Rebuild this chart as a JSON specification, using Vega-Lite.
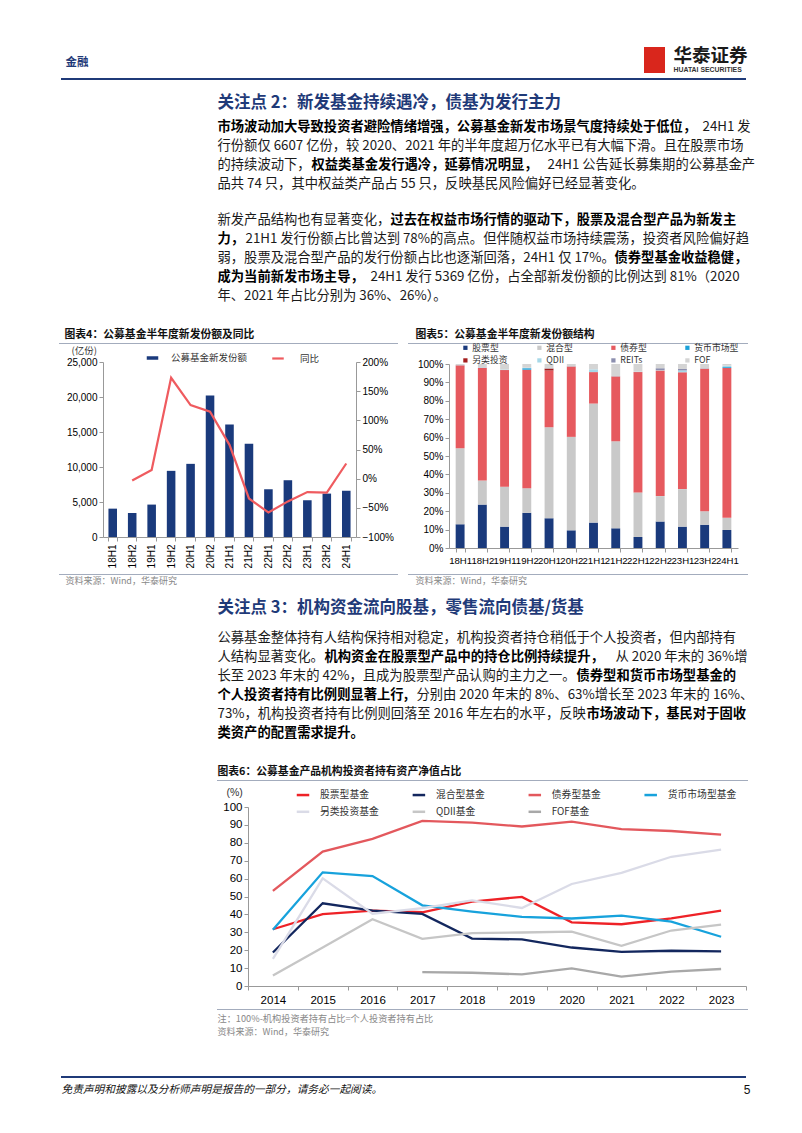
{
"$schema": "https://vega.github.io/schema/vega-lite/v6.json",
"background": "white",
"padding": 0,
"spacing": 0,
"bounds": "flush",
"resolve": {"scale": {"color": "independent", "fill": "independent", "stroke": "independent"}, "legend": {"color": "independent", "fill": "independent", "stroke": "independent"}},
"config": {"view": {"stroke": null}, "concat": {"spacing": 0}, "font": "Noto Sans CJK SC", "text": {"font": "Noto Sans CJK SC"}},
"vconcat": [
 {"spacing": 0, "bounds": "flush", "hconcat": [
  {"width": 62, "height": 78, "data": {"values": [{}]}, "mark": {"type": "point", "opacity": 0}},
  {"spacing": 0, "bounds": "flush", "vconcat": [
   {"width": 1, "height": 56, "data": {"values": [{}]}, "mark": {"type": "point", "opacity": 0}},
   {"width": 1, "height": 14, "data": {"values": [{"t": "金融"}]}, "mark": {"type": "text", "align": "left", "baseline": "middle", "fontSize": 11.5, "fontWeight": "bold", "color": "#1F3A78"}, "encoding": {"text": {"field": "t"}}}
  ]},
  {"width": 579, "height": 78, "data": {"values": [{}]}, "mark": {"type": "point", "opacity": 0}},
  {"spacing": 0, "bounds": "flush", "vconcat": [
   {"width": 21, "height": 47, "data": {"values": [{}]}, "mark": {"type": "point", "opacity": 0}},
   {"width": 21, "height": 26, "view": {"fill": "#D9261C", "stroke": null}, "data": {"values": [{}]}, "mark": {"type": "point", "opacity": 0}}
  ]},
  {"width": 29, "height": 78, "data": {"values": [{}]}, "mark": {"type": "point", "opacity": 0}},
  {"spacing": 0, "bounds": "flush", "vconcat": [
   {"width": 1, "height": 46, "data": {"values": [{}]}, "mark": {"type": "point", "opacity": 0}},
   {"width": 1, "height": 20, "data": {"values": [{"t": "华泰证券"}]}, "mark": {"type": "text", "align": "left", "baseline": "middle", "fontSize": 18.5, "fontWeight": "bold", "color": "#1a1a1a"}, "encoding": {"text": {"field": "t"}}},
   {"width": 1, "height": 8, "data": {"values": [{"t": "HUATAI SECURITIES"}]}, "mark": {"type": "text", "align": "left", "baseline": "middle", "fontSize": 6.9, "fontWeight": "bold", "font": "Liberation Sans", "color": "#333"}, "encoding": {"text": {"field": "t"}}}
  ]}
 ]},
 {"width": 1, "height": 78, "data": {"values": [{}]}, "mark": {"type": "point", "opacity": 0}},
 {"spacing": 0, "bounds": "flush", "hconcat": [
  {"width": 58, "height": 2, "data": {"values": [{}]}, "mark": {"type": "point", "opacity": 0}},
  {"width": 685, "height": 2, "view": {"fill": "#1F3A78", "stroke": null}, "data": {"values": [{}]}, "mark": {"type": "point", "opacity": 0}}
 ]},
 {"width": 1, "height": 2, "data": {"values": [{}]}, "mark": {"type": "point", "opacity": 0}},
 {"spacing": 0, "bounds": "flush", "hconcat": [
  {"width": 214, "height": 247, "data": {"values": [{}]}, "mark": {"type": "point", "opacity": 0}},
  {"spacing": 0, "bounds": "flush", "vconcat": [
   {"width": 1, "height": 13, "data": {"values": [{}]}, "mark": {"type": "point", "opacity": 0}},
   {"width": 1, "height": 20, "data": {"values": [{"t": "关注点 2：新发基金持续遇冷，债基为发行主力"}]}, "mark": {"type": "text", "align": "left", "baseline": "middle", "fontSize": 16.5, "fontWeight": "bold", "color": "#1F3A78"}, "encoding": {"text": {"field": "t"}}},
   {"width": 1, "height": 4, "data": {"values": [{}]}, "mark": {"type": "point", "opacity": 0}},
   {"spacing": 0, "bounds": "flush", "hconcat": [
    {"width": 1, "height": 19, "data": {"values": [{"t": "市场波动加大导致投资者避险情绪增强，公募基金新发市场景气度持续处于低位，"}]}, "mark": {"type": "text", "align": "left", "baseline": "middle", "fontSize": 13.3, "fontWeight": "bold", "color": "#000"}, "encoding": {"text": {"field": "t"}}},
    {"width": 483.8, "height": 19, "data": {"values": [{}]}, "mark": {"type": "point", "opacity": 0}},
    {"width": 1, "height": 19, "data": {"values": [{"t": "24H1 发"}]}, "mark": {"type": "text", "align": "left", "baseline": "middle", "fontSize": 13.3, "color": "#1a1a1a"}, "encoding": {"text": {"field": "t"}}}
   ]},
   {"width": 1, "height": 19, "data": {"values": [{}]}, "mark": {"type": "point", "opacity": 0}},
   {"width": 1, "height": 19, "data": {"values": [{"t": "行份额仅 6607 亿份，较 2020、2021 年的半年度超万亿水平已有大幅下滑。且在股票市场"}]}, "mark": {"type": "text", "align": "left", "baseline": "middle", "fontSize": 13.3, "color": "#1a1a1a"}, "encoding": {"text": {"field": "t"}}},
   {"spacing": 0, "bounds": "flush", "hconcat": [
    {"width": 1, "height": 19, "data": {"values": [{"t": "的持续波动下，"}]}, "mark": {"type": "text", "align": "left", "baseline": "middle", "fontSize": 13.3, "color": "#1a1a1a"}, "encoding": {"text": {"field": "t"}}},
    {"width": 92.1, "height": 19, "data": {"values": [{}]}, "mark": {"type": "point", "opacity": 0}},
    {"width": 1, "height": 19, "data": {"values": [{"t": "权益类基金发行遇冷，延募情况明显，"}]}, "mark": {"type": "text", "align": "left", "baseline": "middle", "fontSize": 13.3, "fontWeight": "bold", "color": "#000"}, "encoding": {"text": {"field": "t"}}},
    {"width": 234.5, "height": 19, "data": {"values": [{}]}, "mark": {"type": "point", "opacity": 0}},
    {"width": 1, "height": 19, "data": {"values": [{"t": "24H1 公告延长募集期的公募基金产"}]}, "mark": {"type": "text", "align": "left", "baseline": "middle", "fontSize": 13.3, "color": "#1a1a1a"}, "encoding": {"text": {"field": "t"}}}
   ]},
   {"width": 1, "height": 19, "data": {"values": [{}]}, "mark": {"type": "point", "opacity": 0}},
   {"width": 1, "height": 19, "data": {"values": [{"t": "品共 74 只，其中权益类产品占 55 只，反映基民风险偏好已经显著变化。"}]}, "mark": {"type": "text", "align": "left", "baseline": "middle", "fontSize": 13.3, "color": "#1a1a1a"}, "encoding": {"text": {"field": "t"}}},
   {"width": 1, "height": 17, "data": {"values": [{}]}, "mark": {"type": "point", "opacity": 0}},
   {"spacing": 0, "bounds": "flush", "hconcat": [
    {"width": 1, "height": 19, "data": {"values": [{"t": "新发产品结构也有显著变化，"}]}, "mark": {"type": "text", "align": "left", "baseline": "middle", "fontSize": 13.3, "color": "#1a1a1a"}, "encoding": {"text": {"field": "t"}}},
    {"width": 171.9, "height": 19, "data": {"values": [{}]}, "mark": {"type": "point", "opacity": 0}},
    {"width": 1, "height": 19, "data": {"values": [{"t": "过去在权益市场行情的驱动下，股票及混合型产品为新发主"}]}, "mark": {"type": "text", "align": "left", "baseline": "middle", "fontSize": 13.3, "fontWeight": "bold", "color": "#000"}, "encoding": {"text": {"field": "t"}}}
   ]},
   {"width": 1, "height": 19, "data": {"values": [{}]}, "mark": {"type": "point", "opacity": 0}},
   {"spacing": 0, "bounds": "flush", "hconcat": [
    {"width": 1, "height": 19, "data": {"values": [{"t": "力，"}]}, "mark": {"type": "text", "align": "left", "baseline": "middle", "fontSize": 13.3, "fontWeight": "bold", "color": "#000"}, "encoding": {"text": {"field": "t"}}},
    {"width": 26.7, "height": 19, "data": {"values": [{}]}, "mark": {"type": "point", "opacity": 0}},
    {"width": 1, "height": 19, "data": {"values": [{"t": "21H1 发行份额占比曾达到 78%的高点。但伴随权益市场持续震荡，投资者风险偏好趋"}]}, "mark": {"type": "text", "align": "left", "baseline": "middle", "fontSize": 13.3, "color": "#1a1a1a"}, "encoding": {"text": {"field": "t"}}}
   ]},
   {"width": 1, "height": 19, "data": {"values": [{}]}, "mark": {"type": "point", "opacity": 0}},
   {"spacing": 0, "bounds": "flush", "hconcat": [
    {"width": 1, "height": 19, "data": {"values": [{"t": "弱，股票及混合型产品的发行份额占比也逐渐回落，24H1 仅 17%。"}]}, "mark": {"type": "text", "align": "left", "baseline": "middle", "fontSize": 13.3, "color": "#1a1a1a"}, "encoding": {"text": {"field": "t"}}},
    {"width": 396, "height": 19, "data": {"values": [{}]}, "mark": {"type": "point", "opacity": 0}},
    {"width": 1, "height": 19, "data": {"values": [{"t": "债券型基金收益稳健，"}]}, "mark": {"type": "text", "align": "left", "baseline": "middle", "fontSize": 13.3, "fontWeight": "bold", "color": "#000"}, "encoding": {"text": {"field": "t"}}}
   ]},
   {"width": 1, "height": 19, "data": {"values": [{}]}, "mark": {"type": "point", "opacity": 0}},
   {"spacing": 0, "bounds": "flush", "hconcat": [
    {"width": 1, "height": 19, "data": {"values": [{"t": "成为当前新发市场主导，"}]}, "mark": {"type": "text", "align": "left", "baseline": "middle", "fontSize": 13.3, "fontWeight": "bold", "color": "#000"}, "encoding": {"text": {"field": "t"}}},
    {"width": 151.4, "height": 19, "data": {"values": [{}]}, "mark": {"type": "point", "opacity": 0}},
    {"width": 1, "height": 19, "data": {"values": [{"t": "24H1 发行 5369 亿份，占全部新发份额的比例达到 81%（2020"}]}, "mark": {"type": "text", "align": "left", "baseline": "middle", "fontSize": 13.3, "color": "#1a1a1a"}, "encoding": {"text": {"field": "t"}}}
   ]},
   {"width": 1, "height": 19, "data": {"values": [{}]}, "mark": {"type": "point", "opacity": 0}},
   {"width": 1, "height": 19, "data": {"values": [{"t": "年、2021 年占比分别为 36%、26%）。"}]}, "mark": {"type": "text", "align": "left", "baseline": "middle", "fontSize": 13.3, "color": "#1a1a1a"}, "encoding": {"text": {"field": "t"}}},
   {"width": 1, "height": 22, "data": {"values": [{}]}, "mark": {"type": "point", "opacity": 0}}
  ]}
 ]},
 {"width": 1, "height": 247, "data": {"values": [{}]}, "mark": {"type": "point", "opacity": 0}},
 {"spacing": 0, "bounds": "flush",
  "resolve": {"scale": {"color": "independent", "fill": "independent", "stroke": "independent"}, "legend": {"color": "independent", "fill": "independent", "stroke": "independent"}},
  "hconcat": [
  {"width": 56, "height": 260, "data": {"values": [{}]}, "mark": {"type": "point", "opacity": 0}},
  {"spacing": 0, "bounds": "flush",
   "resolve": {"scale": {"color": "independent", "fill": "independent", "stroke": "independent"}, "legend": {"color": "independent", "fill": "independent", "stroke": "independent"}},
   "vconcat": [
   {"spacing": 0, "bounds": "flush", "hconcat": [
    {"width": 5, "height": 16, "data": {"values": [{}]}, "mark": {"type": "point", "opacity": 0}},
    {"width": 1, "height": 16, "data": {"values": [{"t": "图表4：公募基金半年度新发份额及同比"}]}, "mark": {"type": "text", "align": "left", "baseline": "middle", "fontSize": 10.8, "fontWeight": "bold", "color": "#111"}, "encoding": {"text": {"field": "t"}}}
   ]},
   {"width": 1, "height": 16, "data": {"values": [{}]}, "mark": {"type": "point", "opacity": 0}},
   {"width": 339, "height": 1, "view": {"fill": "#A3ACBD", "stroke": null}, "data": {"values": [{}]}, "mark": {"type": "point", "opacity": 0}},
   {"spacing": 0, "bounds": "flush",
    "resolve": {"scale": {"color": "independent", "fill": "independent", "stroke": "independent"}, "legend": {"color": "independent", "fill": "independent", "stroke": "independent"}},
    "hconcat": [
    {"width": 44, "height": 230, "data": {"values": [{}]}, "mark": {"type": "point", "opacity": 0}},
    {"spacing": 0, "bounds": "flush",
     "resolve": {"scale": {"color": "independent", "fill": "independent", "stroke": "independent"}, "legend": {"color": "independent", "fill": "independent", "stroke": "independent"}},
     "vconcat": [
     {"width": 1, "height": 18, "data": {"values": [{}]}, "mark": {"type": "point", "opacity": 0}},
     {"width": 253, "height": 175,
      "data": {"values": [
       {"p": "18H1", "v": 4050},
       {"p": "18H2", "v": 3430, "yoy": -0.03},
       {"p": "19H1", "v": 4630, "yoy": 0.15},
       {"p": "19H2", "v": 9450, "yoy": 1.73},
       {"p": "20H1", "v": 10450, "yoy": 1.26},
       {"p": "20H2", "v": 20230, "yoy": 1.15},
       {"p": "21H1", "v": 16080, "yoy": 0.58},
       {"p": "21H2", "v": 13310, "yoy": -0.34},
       {"p": "22H1", "v": 6820, "yoy": -0.58},
       {"p": "22H2", "v": 8110, "yoy": -0.39},
       {"p": "23H1", "v": 5250, "yoy": -0.23},
       {"p": "23H2", "v": 6200, "yoy": -0.24},
       {"p": "24H1", "v": 6607, "yoy": 0.26}
      ]},
      "layer": [
       {"mark": {"type": "bar"},
        "encoding": {
         "x": {"field": "p", "type": "ordinal", "sort": null, "scale": {"type": "band", "domain": ["18H1","18H2","19H1","19H2","20H1","20H2","21H1","21H2","22H1","22H2","23H1","23H2","24H1"], "paddingInner": 0.56, "paddingOuter": 0.28}, "axis": {"title": null, "labelAngle": 270, "labelFont": "Liberation Sans", "labelFontSize": 10, "labelColor": "#000", "domainColor": "#999", "tickColor": "#999", "tickSize": 4, "tickBand": "extent", "labelPadding": 3}},
         "y": {"field": "v", "type": "quantitative", "scale": {"domain": [0, 25000]}, "axis": {"orient": "left", "values": [0, 5000, 10000, 15000, 20000, 25000], "labelExpr": "format(datum.value, ',')", "grid": false, "title": "(亿份)", "titleAngle": 0, "titleAlign": "left", "titleBaseline": "middle", "titleX": -32, "titleY": -12, "titleFont": "Noto Sans CJK SC", "titleFontSize": 9.5, "titleFontWeight": "normal", "titleColor": "#333", "labelFont": "Liberation Sans", "labelFontSize": 10, "labelColor": "#000", "domainColor": "#999", "tickColor": "#999", "tickSize": 4}},
         "fill": {"datum": "公募基金新发份额", "type": "nominal", "scale": {"range": ["#1A3A7C"]}, "legend": {"title": null, "orient": "none", "direction": "horizontal", "legendX": 43.5, "legendY": -10, "symbolType": "M-1.15,-0.35H1.15V0.35H-1.15Z", "symbolSize": 100, "labelOffset": 12.5, "labelFont": "Noto Sans CJK SC", "labelFontSize": 9.5, "labelColor": "#333", "padding": 0}}
        }},
       {"mark": {"type": "line", "strokeWidth": 2.2},
        "encoding": {
         "x": {"field": "p", "type": "ordinal", "sort": null, "bandPosition": 0.5},
         "y": {"field": "yoy", "type": "quantitative", "scale": {"domain": [-1, 2]}, "axis": {"orient": "right", "values": [-1, -0.5, 0, 0.5, 1, 1.5, 2], "labelExpr": "format(datum.value, '.0%')", "grid": false, "title": null, "labelFont": "Liberation Sans", "labelFontSize": 10, "labelColor": "#000", "domainColor": "#999", "tickColor": "#999", "tickSize": 4}},
         "stroke": {"datum": "同比", "type": "nominal", "scale": {"range": ["#EF5B5F"]}, "legend": {"title": null, "orient": "none", "direction": "horizontal", "legendX": 168.5, "legendY": -10, "symbolType": "M-1.15,0H1.15", "symbolSize": 100, "symbolStrokeWidth": 2.2, "labelOffset": 15.5, "labelFont": "Noto Sans CJK SC", "labelFontSize": 9.5, "labelColor": "#333", "padding": 0}}
        }}
      ],
      "resolve": {"scale": {"y": "independent"}}
     },
     {"width": 1, "height": 37, "data": {"values": [{}]}, "mark": {"type": "point", "opacity": 0}}
    ]}
   ]},
   {"width": 1, "height": 230, "data": {"values": [{}]}, "mark": {"type": "point", "opacity": 0}},
   {"width": 339, "height": 1, "view": {"fill": "#A3ACBD", "stroke": null}, "data": {"values": [{}]}, "mark": {"type": "point", "opacity": 0}},
   {"spacing": 0, "bounds": "flush", "hconcat": [
    {"width": 6, "height": 12, "data": {"values": [{}]}, "mark": {"type": "point", "opacity": 0}},
    {"width": 1, "height": 12, "data": {"values": [{"t": "资料来源：Wind，华泰研究"}]}, "mark": {"type": "text", "align": "left", "baseline": "middle", "fontSize": 9, "color": "#888"}, "encoding": {"text": {"field": "t"}}}
   ]}
  ]},
  {"width": 349, "height": 260, "data": {"values": [{}]}, "mark": {"type": "point", "opacity": 0}},
  {"spacing": 0, "bounds": "flush",
   "resolve": {"scale": {"color": "independent", "fill": "independent", "stroke": "independent"}, "legend": {"color": "independent", "fill": "independent", "stroke": "independent"}},
   "vconcat": [
   {"spacing": 0, "bounds": "flush", "hconcat": [
    {"width": 7, "height": 16, "data": {"values": [{}]}, "mark": {"type": "point", "opacity": 0}},
    {"width": 1, "height": 16, "data": {"values": [{"t": "图表5：公募基金半年度新发份额结构"}]}, "mark": {"type": "text", "align": "left", "baseline": "middle", "fontSize": 10.8, "fontWeight": "bold", "color": "#111"}, "encoding": {"text": {"field": "t"}}}
   ]},
   {"width": 1, "height": 16, "data": {"values": [{}]}, "mark": {"type": "point", "opacity": 0}},
   {"width": 340, "height": 1, "view": {"fill": "#A3ACBD", "stroke": null}, "data": {"values": [{}]}, "mark": {"type": "point", "opacity": 0}},
   {"spacing": 0, "bounds": "flush",
    "resolve": {"scale": {"color": "independent", "fill": "independent", "stroke": "independent"}, "legend": {"color": "independent", "fill": "independent", "stroke": "independent"}},
    "hconcat": [
    {"width": 41, "height": 230, "data": {"values": [{}]}, "mark": {"type": "point", "opacity": 0}},
    {"spacing": 0, "bounds": "flush",
     "resolve": {"scale": {"color": "independent", "fill": "independent", "stroke": "independent"}, "legend": {"color": "independent", "fill": "independent", "stroke": "independent"}},
     "vconcat": [
     {"width": 1, "height": 20, "data": {"values": [{}]}, "mark": {"type": "point", "opacity": 0}},
     {"width": 289, "height": 184,
      "data": {"values": [
       {"p": "18H1", "t": "股票型", "k": 1, "v": 12.9}, {"p": "18H1", "t": "混合型", "k": 2, "v": 41.3}, {"p": "18H1", "t": "债券型", "k": 3, "v": 45.1}, {"p": "18H1", "t": "QDII", "k": 6, "v": 0.2}, {"p": "18H1", "t": "FOF", "k": 8, "v": 0.5},
       {"p": "18H2", "t": "股票型", "k": 1, "v": 23.6}, {"p": "18H2", "t": "混合型", "k": 2, "v": 13.1}, {"p": "18H2", "t": "债券型", "k": 3, "v": 61.3}, {"p": "18H2", "t": "QDII", "k": 6, "v": 0.3}, {"p": "18H2", "t": "FOF", "k": 8, "v": 1.7},
       {"p": "19H1", "t": "股票型", "k": 1, "v": 11.6}, {"p": "19H1", "t": "混合型", "k": 2, "v": 21.7}, {"p": "19H1", "t": "债券型", "k": 3, "v": 63.4}, {"p": "19H1", "t": "QDII", "k": 6, "v": 0.3}, {"p": "19H1", "t": "FOF", "k": 8, "v": 3.0},
       {"p": "19H2", "t": "股票型", "k": 1, "v": 19.1}, {"p": "19H2", "t": "混合型", "k": 2, "v": 13.4}, {"p": "19H2", "t": "债券型", "k": 3, "v": 64.4}, {"p": "19H2", "t": "货币市场型", "k": 4, "v": 0.8}, {"p": "19H2", "t": "QDII", "k": 6, "v": 0.3}, {"p": "19H2", "t": "FOF", "k": 8, "v": 2.0},
       {"p": "20H1", "t": "股票型", "k": 1, "v": 16.2}, {"p": "20H1", "t": "混合型", "k": 2, "v": 49.4}, {"p": "20H1", "t": "债券型", "k": 3, "v": 30.8}, {"p": "20H1", "t": "另类投资", "k": 5, "v": 1.1}, {"p": "20H1", "t": "QDII", "k": 6, "v": 0.2}, {"p": "20H1", "t": "FOF", "k": 8, "v": 2.3},
       {"p": "20H2", "t": "股票型", "k": 1, "v": 9.6}, {"p": "20H2", "t": "混合型", "k": 2, "v": 50.8}, {"p": "20H2", "t": "债券型", "k": 3, "v": 38.3}, {"p": "20H2", "t": "QDII", "k": 6, "v": 0.2}, {"p": "20H2", "t": "FOF", "k": 8, "v": 1.1},
       {"p": "21H1", "t": "股票型", "k": 1, "v": 13.8}, {"p": "21H1", "t": "混合型", "k": 2, "v": 64.7}, {"p": "21H1", "t": "债券型", "k": 3, "v": 17.1}, {"p": "21H1", "t": "QDII", "k": 6, "v": 1.5}, {"p": "21H1", "t": "FOF", "k": 8, "v": 2.9},
       {"p": "21H2", "t": "股票型", "k": 1, "v": 10.7}, {"p": "21H2", "t": "混合型", "k": 2, "v": 47.3}, {"p": "21H2", "t": "债券型", "k": 3, "v": 35.3}, {"p": "21H2", "t": "QDII", "k": 6, "v": 0.2}, {"p": "21H2", "t": "FOF", "k": 8, "v": 6.5},
       {"p": "22H1", "t": "股票型", "k": 1, "v": 6.0}, {"p": "22H1", "t": "混合型", "k": 2, "v": 24.2}, {"p": "22H1", "t": "债券型", "k": 3, "v": 65.4}, {"p": "22H1", "t": "QDII", "k": 6, "v": 0.2}, {"p": "22H1", "t": "FOF", "k": 8, "v": 4.2},
       {"p": "22H2", "t": "股票型", "k": 1, "v": 14.4}, {"p": "22H2", "t": "混合型", "k": 2, "v": 13.8}, {"p": "22H2", "t": "债券型", "k": 3, "v": 68.3}, {"p": "22H2", "t": "QDII", "k": 6, "v": 0.2}, {"p": "22H2", "t": "REITs", "k": 7, "v": 1.0}, {"p": "22H2", "t": "FOF", "k": 8, "v": 2.3},
       {"p": "23H1", "t": "股票型", "k": 1, "v": 11.6}, {"p": "23H1", "t": "混合型", "k": 2, "v": 20.4}, {"p": "23H1", "t": "债券型", "k": 3, "v": 63.5}, {"p": "23H1", "t": "QDII", "k": 6, "v": 1.0}, {"p": "23H1", "t": "REITs", "k": 7, "v": 0.8}, {"p": "23H1", "t": "FOF", "k": 8, "v": 2.7},
       {"p": "23H2", "t": "股票型", "k": 1, "v": 12.7}, {"p": "23H2", "t": "混合型", "k": 2, "v": 7.3}, {"p": "23H2", "t": "债券型", "k": 3, "v": 77.6}, {"p": "23H2", "t": "QDII", "k": 6, "v": 0.2}, {"p": "23H2", "t": "FOF", "k": 8, "v": 2.2},
       {"p": "24H1", "t": "股票型", "k": 1, "v": 9.8}, {"p": "24H1", "t": "混合型", "k": 2, "v": 6.6}, {"p": "24H1", "t": "债券型", "k": 3, "v": 81.4}, {"p": "24H1", "t": "货币市场型", "k": 4, "v": 0.5}, {"p": "24H1", "t": "QDII", "k": 6, "v": 0.8}, {"p": "24H1", "t": "FOF", "k": 8, "v": 0.9}
      ]},
      "mark": {"type": "bar"},
      "encoding": {
       "x": {"field": "p", "type": "ordinal", "sort": null, "scale": {"type": "band", "domain": ["18H1","18H2","19H1","19H2","20H1","20H2","21H1","21H2","22H1","22H2","23H1","23H2","24H1"], "paddingInner": 0.6, "paddingOuter": 0.3}, "axis": {"title": null, "labelAngle": 0, "labelOverlap": false, "labelFont": "Liberation Sans", "labelFontSize": 9.6, "labelColor": "#000", "domainColor": "#999", "tickColor": "#999", "tickSize": 4, "tickBand": "extent", "labelPadding": 3}},
       "y": {"field": "v", "type": "quantitative", "stack": "normalize", "scale": {"domain": [0, 1]}, "axis": {"title": null, "values": [0, 0.1, 0.2, 0.3, 0.4, 0.5, 0.6, 0.7, 0.8, 0.9, 1], "labelExpr": "format(datum.value, '.0%')", "grid": false, "labelFont": "Liberation Sans", "labelFontSize": 10, "labelColor": "#000", "domainColor": "#999", "tickColor": "#999", "tickSize": 4}},
       "color": {"field": "t", "type": "nominal", "scale": {"domain": ["股票型", "混合型", "债券型", "货币市场型", "另类投资", "QDII", "REITs", "FOF"], "range": ["#1A3A7C", "#C9C9C9", "#E65A5F", "#1BA1D9", "#A31D1D", "#A7D8E8", "#8C8FAF", "#D4D4D4"]}, "legend": {"title": null, "orient": "none", "direction": "horizontal", "legendX": 12, "legendY": -21, "columns": 4, "gridAlign": "all", "symbolType": "square", "symbolSize": 18, "labelOffset": 2.5, "columnPadding": 18, "rowPadding": 3, "labelFont": "Noto Sans CJK SC", "labelFontSize": 8.8, "labelColor": "#333", "padding": 0}},
       "order": {"field": "k", "type": "quantitative"}
      }
     },
     {"width": 1, "height": 26, "data": {"values": [{}]}, "mark": {"type": "point", "opacity": 0}}
    ]}
   ]},
   {"width": 1, "height": 230, "data": {"values": [{}]}, "mark": {"type": "point", "opacity": 0}},
   {"width": 340, "height": 1, "view": {"fill": "#A3ACBD", "stroke": null}, "data": {"values": [{}]}, "mark": {"type": "point", "opacity": 0}},
   {"spacing": 0, "bounds": "flush", "hconcat": [
    {"width": 7, "height": 12, "data": {"values": [{}]}, "mark": {"type": "point", "opacity": 0}},
    {"width": 1, "height": 12, "data": {"values": [{"t": "资料来源：Wind，华泰研究"}]}, "mark": {"type": "text", "align": "left", "baseline": "middle", "fontSize": 9, "color": "#888"}, "encoding": {"text": {"field": "t"}}}
   ]}
  ]}
 ]},
 {"width": 1, "height": 260, "data": {"values": [{}]}, "mark": {"type": "point", "opacity": 0}},
 {"spacing": 0, "bounds": "flush",
  "resolve": {"scale": {"color": "independent", "fill": "independent", "stroke": "independent"}, "legend": {"color": "independent", "fill": "independent", "stroke": "independent"}},
  "hconcat": [
  {"width": 214, "height": 451, "data": {"values": [{}]}, "mark": {"type": "point", "opacity": 0}},
  {"spacing": 0, "bounds": "flush",
   "resolve": {"scale": {"color": "independent", "fill": "independent", "stroke": "independent"}, "legend": {"color": "independent", "fill": "independent", "stroke": "independent"}},
   "vconcat": [
   {"width": 1, "height": 11, "data": {"values": [{}]}, "mark": {"type": "point", "opacity": 0}},
   {"width": 1, "height": 20, "data": {"values": [{"t": "关注点 3：机构资金流向股基，零售流向债基/货基"}]}, "mark": {"type": "text", "align": "left", "baseline": "middle", "fontSize": 16.5, "fontWeight": "bold", "color": "#1F3A78"}, "encoding": {"text": {"field": "t"}}},
   {"width": 1, "height": 10, "data": {"values": [{}]}, "mark": {"type": "point", "opacity": 0}},
   {"width": 1, "height": 19, "data": {"values": [{"t": "公募基金整体持有人结构保持相对稳定，机构投资者持仓稍低于个人投资者，但内部持有"}]}, "mark": {"type": "text", "align": "left", "baseline": "middle", "fontSize": 13.3, "color": "#1a1a1a"}, "encoding": {"text": {"field": "t"}}},
   {"spacing": 0, "bounds": "flush", "hconcat": [
    {"width": 1, "height": 19, "data": {"values": [{"t": "人结构显著变化。"}]}, "mark": {"type": "text", "align": "left", "baseline": "middle", "fontSize": 13.3, "color": "#1a1a1a"}, "encoding": {"text": {"field": "t"}}},
    {"width": 105.4, "height": 19, "data": {"values": [{}]}, "mark": {"type": "point", "opacity": 0}},
    {"width": 1, "height": 19, "data": {"values": [{"t": "机构资金在股票型产品中的持仓比例持续提升，"}]}, "mark": {"type": "text", "align": "left", "baseline": "middle", "fontSize": 13.3, "fontWeight": "bold", "color": "#000"}, "encoding": {"text": {"field": "t"}}},
    {"width": 289.9, "height": 19, "data": {"values": [{}]}, "mark": {"type": "point", "opacity": 0}},
    {"width": 1, "height": 19, "data": {"values": [{"t": "从 2020 年末的 36%增"}]}, "mark": {"type": "text", "align": "left", "baseline": "middle", "fontSize": 13.3, "color": "#1a1a1a"}, "encoding": {"text": {"field": "t"}}}
   ]},
   {"width": 1, "height": 19, "data": {"values": [{}]}, "mark": {"type": "point", "opacity": 0}},
   {"spacing": 0, "bounds": "flush", "hconcat": [
    {"width": 1, "height": 19, "data": {"values": [{"t": "长至 2023 年末的 42%，且成为股票型产品认购的主力之一。"}]}, "mark": {"type": "text", "align": "left", "baseline": "middle", "fontSize": 13.3, "color": "#1a1a1a"}, "encoding": {"text": {"field": "t"}}},
    {"width": 357.4, "height": 19, "data": {"values": [{}]}, "mark": {"type": "point", "opacity": 0}},
    {"width": 1, "height": 19, "data": {"values": [{"t": "债券型和货币市场型基金的"}]}, "mark": {"type": "text", "align": "left", "baseline": "middle", "fontSize": 13.3, "fontWeight": "bold", "color": "#000"}, "encoding": {"text": {"field": "t"}}}
   ]},
   {"width": 1, "height": 19, "data": {"values": [{}]}, "mark": {"type": "point", "opacity": 0}},
   {"spacing": 0, "bounds": "flush", "hconcat": [
    {"width": 1, "height": 19, "data": {"values": [{"t": "个人投资者持有比例则显著上行,"}]}, "mark": {"type": "text", "align": "left", "baseline": "middle", "fontSize": 13.3, "fontWeight": "bold", "color": "#000"}, "encoding": {"text": {"field": "t"}}},
    {"width": 197.1, "height": 19, "data": {"values": [{}]}, "mark": {"type": "point", "opacity": 0}},
    {"width": 1, "height": 19, "data": {"values": [{"t": "分别由 2020 年末的 8%、63%增长至 2023 年末的 16%、"}]}, "mark": {"type": "text", "align": "left", "baseline": "middle", "fontSize": 13.3, "color": "#1a1a1a"}, "encoding": {"text": {"field": "t"}}}
   ]},
   {"width": 1, "height": 19, "data": {"values": [{}]}, "mark": {"type": "point", "opacity": 0}},
   {"spacing": 0, "bounds": "flush", "hconcat": [
    {"width": 1, "height": 19, "data": {"values": [{"t": "73%，机构投资者持有比例则回落至 2016 年左右的水平，反映"}]}, "mark": {"type": "text", "align": "left", "baseline": "middle", "fontSize": 13.3, "color": "#1a1a1a"}, "encoding": {"text": {"field": "t"}}},
    {"width": 367.7, "height": 19, "data": {"values": [{}]}, "mark": {"type": "point", "opacity": 0}},
    {"width": 1, "height": 19, "data": {"values": [{"t": "市场波动下，基民对于固收"}]}, "mark": {"type": "text", "align": "left", "baseline": "middle", "fontSize": 13.3, "fontWeight": "bold", "color": "#000"}, "encoding": {"text": {"field": "t"}}}
   ]},
   {"width": 1, "height": 19, "data": {"values": [{}]}, "mark": {"type": "point", "opacity": 0}},
   {"width": 1, "height": 19, "data": {"values": [{"t": "类资产的配置需求提升。"}]}, "mark": {"type": "text", "align": "left", "baseline": "middle", "fontSize": 13.3, "fontWeight": "bold", "color": "#000"}, "encoding": {"text": {"field": "t"}}},
   {"width": 1, "height": 22, "data": {"values": [{}]}, "mark": {"type": "point", "opacity": 0}},
   {"width": 1, "height": 16, "data": {"values": [{"t": "图表6：公募基金产品机构投资者持有资产净值占比"}]}, "mark": {"type": "text", "align": "left", "baseline": "middle", "fontSize": 10.8, "fontWeight": "bold", "color": "#111"}, "encoding": {"text": {"field": "t"}}},
   {"width": 531, "height": 1, "view": {"fill": "#A3ACBD", "stroke": null}, "data": {"values": [{}]}, "mark": {"type": "point", "opacity": 0}},
   {"spacing": 0, "bounds": "flush",
    "resolve": {"scale": {"color": "independent", "fill": "independent", "stroke": "independent"}, "legend": {"color": "independent", "fill": "independent", "stroke": "independent"}},
    "hconcat": [
    {"width": 31, "height": 228, "data": {"values": [{}]}, "mark": {"type": "point", "opacity": 0}},
    {"spacing": 0, "bounds": "flush",
     "resolve": {"scale": {"color": "independent", "fill": "independent", "stroke": "independent"}, "legend": {"color": "independent", "fill": "independent", "stroke": "independent"}},
     "vconcat": [
     {"width": 1, "height": 26, "data": {"values": [{}]}, "mark": {"type": "point", "opacity": 0}},
     {"width": 498, "height": 179,
      "data": {"values": [
       {"yr": "2014", "s": "股票型基金", "v": 31.7}, {"yr": "2015", "s": "股票型基金", "v": 40.1}, {"yr": "2016", "s": "股票型基金", "v": 42.1}, {"yr": "2017", "s": "股票型基金", "v": 41.2}, {"yr": "2018", "s": "股票型基金", "v": 47.1}, {"yr": "2019", "s": "股票型基金", "v": 49.8}, {"yr": "2020", "s": "股票型基金", "v": 35.6}, {"yr": "2021", "s": "股票型基金", "v": 34.5}, {"yr": "2022", "s": "股票型基金", "v": 37.8}, {"yr": "2023", "s": "股票型基金", "v": 42.1},
       {"yr": "2014", "s": "混合型基金", "v": 18.7}, {"yr": "2015", "s": "混合型基金", "v": 46.2}, {"yr": "2016", "s": "混合型基金", "v": 42.1}, {"yr": "2017", "s": "混合型基金", "v": 40.3}, {"yr": "2018", "s": "混合型基金", "v": 26.5}, {"yr": "2019", "s": "混合型基金", "v": 26.0}, {"yr": "2020", "s": "混合型基金", "v": 21.5}, {"yr": "2021", "s": "混合型基金", "v": 19.1}, {"yr": "2022", "s": "混合型基金", "v": 19.7}, {"yr": "2023", "s": "混合型基金", "v": 19.3},
       {"yr": "2014", "s": "债券型基金", "v": 53.1}, {"yr": "2015", "s": "债券型基金", "v": 75.1}, {"yr": "2016", "s": "债券型基金", "v": 82.2}, {"yr": "2017", "s": "债券型基金", "v": 92.2}, {"yr": "2018", "s": "债券型基金", "v": 91.3}, {"yr": "2019", "s": "债券型基金", "v": 89.1}, {"yr": "2020", "s": "债券型基金", "v": 91.8}, {"yr": "2021", "s": "债券型基金", "v": 87.6}, {"yr": "2022", "s": "债券型基金", "v": 86.6}, {"yr": "2023", "s": "债券型基金", "v": 84.6},
       {"yr": "2014", "s": "货币市场型基金", "v": 31.4}, {"yr": "2015", "s": "货币市场型基金", "v": 63.5}, {"yr": "2016", "s": "货币市场型基金", "v": 61.4}, {"yr": "2017", "s": "货币市场型基金", "v": 45.1}, {"yr": "2018", "s": "货币市场型基金", "v": 41.6}, {"yr": "2019", "s": "货币市场型基金", "v": 38.6}, {"yr": "2020", "s": "货币市场型基金", "v": 37.7}, {"yr": "2021", "s": "货币市场型基金", "v": 39.3}, {"yr": "2022", "s": "货币市场型基金", "v": 36.0}, {"yr": "2023", "s": "货币市场型基金", "v": 27.5},
       {"yr": "2014", "s": "另类投资基金", "v": 15.2}, {"yr": "2015", "s": "另类投资基金", "v": 60.1}, {"yr": "2016", "s": "另类投资基金", "v": 40.4}, {"yr": "2017", "s": "另类投资基金", "v": 43.5}, {"yr": "2018", "s": "另类投资基金", "v": 47.8}, {"yr": "2019", "s": "另类投资基金", "v": 43.6}, {"yr": "2020", "s": "另类投资基金", "v": 57.0}, {"yr": "2021", "s": "另类投资基金", "v": 63.2}, {"yr": "2022", "s": "另类投资基金", "v": 72.2}, {"yr": "2023", "s": "另类投资基金", "v": 76.2},
       {"yr": "2014", "s": "QDII基金", "v": 5.8}, {"yr": "2015", "s": "QDII基金", "v": 21.5}, {"yr": "2016", "s": "QDII基金", "v": 37.3}, {"yr": "2017", "s": "QDII基金", "v": 26.3}, {"yr": "2018", "s": "QDII基金", "v": 29.5}, {"yr": "2019", "s": "QDII基金", "v": 29.9}, {"yr": "2020", "s": "QDII基金", "v": 30.4}, {"yr": "2021", "s": "QDII基金", "v": 22.4}, {"yr": "2022", "s": "QDII基金", "v": 31.0}, {"yr": "2023", "s": "QDII基金", "v": 34.3},
       {"yr": "2017", "s": "FOF基金", "v": 7.8}, {"yr": "2018", "s": "FOF基金", "v": 7.4}, {"yr": "2019", "s": "FOF基金", "v": 6.5}, {"yr": "2020", "s": "FOF基金", "v": 9.8}, {"yr": "2021", "s": "FOF基金", "v": 5.2}, {"yr": "2022", "s": "FOF基金", "v": 8.0}, {"yr": "2023", "s": "FOF基金", "v": 9.5}
      ]},
      "mark": {"type": "line", "strokeWidth": 2.3},
      "encoding": {
       "x": {"field": "yr", "type": "ordinal", "scale": {"type": "band", "paddingInner": 0, "paddingOuter": 0}, "bandPosition": 0.5, "axis": {"title": null, "labelAngle": 0, "labelFont": "Liberation Sans", "labelFontSize": 11.5, "labelColor": "#000", "domainColor": "#999", "tickColor": "#999", "tickSize": 4, "tickBand": "extent", "labelPadding": 4}},
       "y": {"field": "v", "type": "quantitative", "scale": {"domain": [0, 100]}, "axis": {"values": [0, 10, 20, 30, 40, 50, 60, 70, 80, 90, 100], "grid": false, "title": "(%)", "titleAngle": 0, "titleAlign": "left", "titleBaseline": "middle", "titleX": -22, "titleY": -15, "titleFont": "Liberation Sans", "titleFontSize": 10.5, "titleFontWeight": "normal", "titleColor": "#333", "labelFont": "Liberation Sans", "labelFontSize": 11.5, "labelColor": "#000", "domainColor": "#999", "tickColor": "#999", "tickSize": 4}},
       "color": {"field": "s", "type": "nominal", "scale": {"domain": ["股票型基金", "混合型基金", "债券型基金", "货币市场型基金", "另类投资基金", "QDII基金", "FOF基金"], "range": ["#EE2227", "#13275E", "#E3585D", "#17A2DC", "#DADBE7", "#C6C6C6", "#A8A8A8"]}, "legend": {"title": null, "orient": "none", "direction": "horizontal", "legendX": 48.5, "legendY": -18.7, "columns": 4, "gridAlign": "all", "symbolType": "M-1.25,0H1.25", "symbolSize": 100, "symbolStrokeWidth": 2.5, "labelOffset": 10.5, "columnPadding": 17.9, "rowPadding": 5, "labelFont": "Noto Sans CJK SC", "labelFontSize": 9.8, "labelColor": "#333", "padding": 0}}
      }
     },
     {"width": 1, "height": 23, "data": {"values": [{}]}, "mark": {"type": "point", "opacity": 0}}
    ]}
   ]},
   {"width": 1, "height": 228, "data": {"values": [{}]}, "mark": {"type": "point", "opacity": 0}},
   {"width": 531, "height": 1, "view": {"fill": "#A3ACBD", "stroke": null}, "data": {"values": [{}]}, "mark": {"type": "point", "opacity": 0}},
   {"width": 1, "height": 2, "data": {"values": [{}]}, "mark": {"type": "point", "opacity": 0}},
   {"width": 1, "height": 14, "data": {"values": [{"t": "注：100%-机构投资者持有占比=个人投资者持有占比"}]}, "mark": {"type": "text", "align": "left", "baseline": "middle", "fontSize": 9.2, "color": "#888"}, "encoding": {"text": {"field": "t"}}},
   {"width": 1, "height": 12, "data": {"values": [{"t": "资料来源：Wind，华泰研究"}]}, "mark": {"type": "text", "align": "left", "baseline": "middle", "fontSize": 9, "color": "#888"}, "encoding": {"text": {"field": "t"}}}
  ]}
 ]},
 {"width": 1, "height": 451, "data": {"values": [{}]}, "mark": {"type": "point", "opacity": 0}},
 {"width": 1, "height": 38, "data": {"values": [{}]}, "mark": {"type": "point", "opacity": 0}},
 {"spacing": 0, "bounds": "flush", "hconcat": [
  {"width": 58, "height": 2, "data": {"values": [{}]}, "mark": {"type": "point", "opacity": 0}},
  {"width": 685, "height": 2, "view": {"fill": "#1F3A78", "stroke": null}, "data": {"values": [{}]}, "mark": {"type": "point", "opacity": 0}}
 ]},
 {"width": 1, "height": 2, "data": {"values": [{}]}, "mark": {"type": "point", "opacity": 0}},
 {"spacing": 0, "bounds": "flush", "hconcat": [
  {"width": 58, "height": 20, "data": {"values": [{}]}, "mark": {"type": "point", "opacity": 0}},
  {"spacing": 0, "bounds": "flush", "vconcat": [
   {"width": 1, "height": 5, "data": {"values": [{}]}, "mark": {"type": "point", "opacity": 0}},
   {"width": 1, "height": 14, "data": {"values": [{"t": "免责声明和披露以及分析师声明是报告的一部分，请务必一起阅读。"}]}, "mark": {"type": "text", "align": "left", "baseline": "middle", "fontSize": 10.7, "fontStyle": "italic", "color": "#111"}, "encoding": {"text": {"field": "t"}}}
  ]},
  {"width": 689, "height": 20, "data": {"values": [{}]}, "mark": {"type": "point", "opacity": 0}},
  {"spacing": 0, "bounds": "flush", "vconcat": [
   {"width": 1, "height": 5, "data": {"values": [{}]}, "mark": {"type": "point", "opacity": 0}},
   {"width": 1, "height": 14, "data": {"values": [{"t": "5"}]}, "mark": {"type": "text", "align": "right", "baseline": "middle", "fontSize": 12, "font": "Liberation Sans", "color": "#111"}, "encoding": {"text": {"field": "t"}}}
  ]}
 ]}
]
}
